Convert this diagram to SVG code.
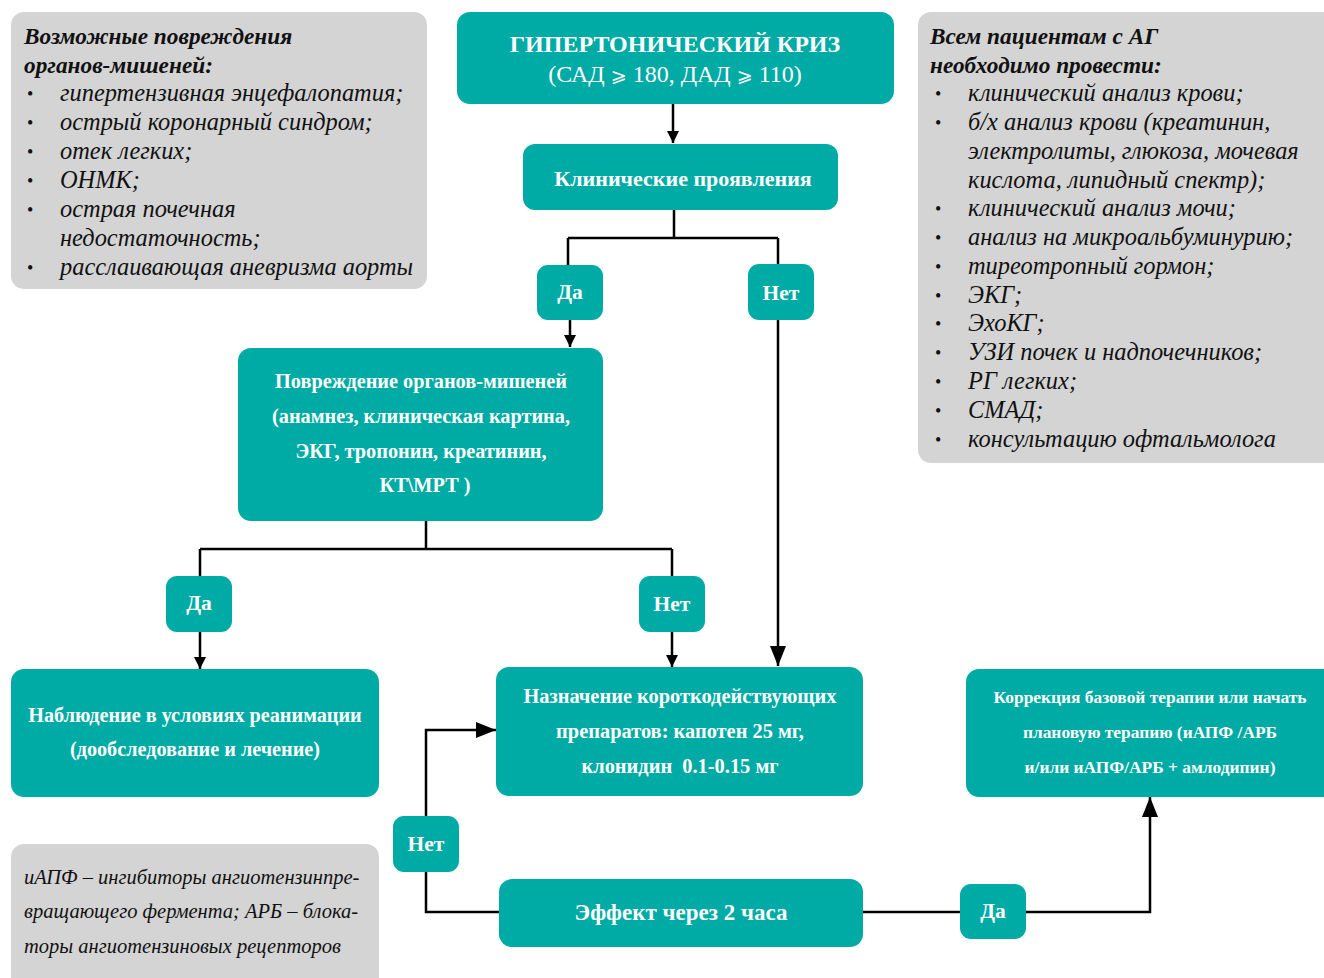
<svg xmlns="http://www.w3.org/2000/svg" width="1324" height="978" viewBox="0 0 1324 978">
<defs>
<style>
.teal{fill:#00aba5;}
.gray{fill:#d4d4d4;}
.wt{fill:#ffffff;font-family:"Liberation Serif","Times New Roman",serif;font-weight:bold;text-anchor:middle;}
.it{fill:#111111;font-family:"Liberation Serif","Times New Roman",serif;font-style:italic;font-size:24.4px;}
.ith{fill:#111111;font-family:"Liberation Serif","Times New Roman",serif;font-style:italic;font-weight:bold;font-size:23.3px;}
.bul{fill:#111111;font-family:"Liberation Serif","Times New Roman",serif;font-size:18px;}
.ln{fill:none;stroke:#000000;stroke-width:2.5;}
</style>
<marker id="as" viewBox="0 0 12 12" refX="12" refY="6" markerWidth="12" markerHeight="12" markerUnits="userSpaceOnUse" orient="auto"><path d="M0,0 L12,6 L0,12 z" fill="#000"/></marker>
<marker id="al" viewBox="0 0 20 16" refX="20" refY="8" markerWidth="20" markerHeight="16" markerUnits="userSpaceOnUse" orient="auto"><path d="M0,0 L20,8 L0,16 z" fill="#000"/></marker>
</defs>
<rect width="1324" height="978" fill="#ffffff"/>

<g id="connectors">
<path class="ln" d="M673,104 V143" marker-end="url(#as)"/>
<path class="ln" d="M674,210 V238 M568,238 H778 M568,238 V265 M778,238 V264"/>
<path class="ln" d="M570,320 V347" marker-end="url(#as)"/>
<path class="ln" d="M778,320 V666" marker-end="url(#al)"/>
<path class="ln" d="M426,521 V549 M200,549 H672 M200,549 V576 M672,549 V576"/>
<path class="ln" d="M200,632 V669" marker-end="url(#as)"/>
<path class="ln" d="M672,632 V667" marker-end="url(#as)"/>
<path class="ln" d="M499,912 H426 V730 H496" marker-end="url(#al)"/>
<path class="ln" d="M863,912 H1150 V797" marker-end="url(#al)"/>
</g>

<g id="note-left">
<rect class="gray" x="11" y="12" width="416" height="277" rx="13"/>
<text class="ith" x="24" y="44">Возможные повреждения</text>
<text class="ith" x="24" y="73">органов-мишеней:</text>
<g class="bul"><text x="27" y="100">•</text><text x="27" y="129">•</text><text x="27" y="158">•</text><text x="27" y="187">•</text><text x="27" y="216">•</text><text x="27" y="274">•</text></g>
<text class="it" x="60" y="101">гипертензивная энцефалопатия;</text>
<text class="it" x="60" y="130">острый коронарный синдром;</text>
<text class="it" x="60" y="159">отек легких;</text>
<text class="it" x="60" y="188">ОНМК;</text>
<text class="it" x="60" y="217">острая почечная</text>
<text class="it" x="60" y="246">недостаточность;</text>
<text class="it" x="60" y="275">расслаивающая аневризма аорты</text>
</g>

<g id="note-right">
<rect class="gray" x="918" y="12" width="420" height="451" rx="13"/>
<text class="ith" x="930" y="44">Всем пациентам с АГ</text>
<text class="ith" x="930" y="73">необходимо провести:</text>
<g class="bul"><text x="935" y="100">•</text><text x="935" y="129">•</text><text x="935" y="215">•</text><text x="935" y="244">•</text><text x="935" y="273">•</text><text x="935" y="302">•</text><text x="935" y="330">•</text><text x="935" y="359">•</text><text x="935" y="388">•</text><text x="935" y="417">•</text><text x="935" y="446">•</text></g>
<text class="it" x="968" y="101">клинический анализ крови;</text>
<text class="it" x="968" y="130">б/х анализ крови (креатинин,</text>
<text class="it" x="968" y="159">электролиты, глюкоза, мочевая</text>
<text class="it" x="968" y="188">кислота, липидный спектр);</text>
<text class="it" x="968" y="216">клинический анализ мочи;</text>
<text class="it" x="968" y="245">анализ на микроальбуминурию;</text>
<text class="it" x="968" y="274">тиреотропный гормон;</text>
<text class="it" x="968" y="303">ЭКГ;</text>
<text class="it" x="968" y="331">ЭхоКГ;</text>
<text class="it" x="968" y="360">УЗИ почек и надпочечников;</text>
<text class="it" x="968" y="389">РГ легких;</text>
<text class="it" x="968" y="418">СМАД;</text>
<text class="it" x="968" y="447">консультацию офтальмолога</text>
</g>

<g id="crisis">
<rect class="teal" x="457" y="12" width="437" height="92" rx="13"/>
<text class="wt" x="675" y="52" font-size="24">ГИПЕРТОНИЧЕСКИЙ КРИЗ</text>
<text class="wt" x="675" y="82" font-size="24" style="font-weight:normal">(САД <tspan font-family="DejaVu Serif,DejaVu Sans,serif" font-size="19">⩾</tspan> 180, ДАД <tspan font-family="DejaVu Serif,DejaVu Sans,serif" font-size="19">⩾</tspan> 110)</text>
</g>

<g id="clinical">
<rect class="teal" x="523" y="144" width="315" height="66" rx="12"/>
<text class="wt" x="683" y="186" font-size="22">Клинические проявления</text>
</g>

<g id="yes1">
<rect class="teal" x="537" y="265" width="66" height="55" rx="11"/>
<text class="wt" x="570" y="299" font-size="21.5">Да</text>
</g>
<g id="no1">
<rect class="teal" x="748" y="264" width="66" height="56" rx="11"/>
<text class="wt" x="781" y="300" font-size="21.5">Нет</text>
</g>

<g id="damage">
<rect class="teal" x="238" y="348" width="365" height="173" rx="13"/>
<text class="wt" x="421" y="388" font-size="20.3">Повреждение органов-мишеней</text>
<text class="wt" x="421" y="423" font-size="20.3">(анамнез, клиническая картина,</text>
<text class="wt" x="421" y="458" font-size="20.3">ЭКГ, тропонин, креатинин,</text>
<text class="wt" x="425" y="492" font-size="20.3">КТ\МРТ )</text>
</g>

<g id="yes2">
<rect class="teal" x="166" y="576" width="66" height="56" rx="11"/>
<text class="wt" x="199" y="610" font-size="21.5">Да</text>
</g>
<g id="no2">
<rect class="teal" x="639" y="576" width="66" height="56" rx="11"/>
<text class="wt" x="672" y="611" font-size="21.5">Нет</text>
</g>

<g id="icu">
<rect class="teal" x="11" y="669" width="368" height="128" rx="13"/>
<text class="wt" x="195" y="722" font-size="20.2">Наблюдение в условиях реанимации</text>
<text class="wt" x="195" y="756" font-size="20.2">(дообследование и лечение)</text>
</g>

<g id="drugs">
<rect class="teal" x="496" y="667" width="367" height="129" rx="13"/>
<text class="wt" x="680" y="703" font-size="20.4">Назначение короткодействующих</text>
<text class="wt" x="680" y="738" font-size="20.4">препаратов: капотен 25 мг,</text>
<text class="wt" x="680" y="773" font-size="20.4" xml:space="preserve">клонидин  0.1-0.15 мг</text>
</g>

<g id="correction">
<rect class="teal" x="966" y="669" width="372" height="128" rx="13"/>
<text class="wt" x="1150" y="703" font-size="17.4">Коррекция базовой терапии или начать</text>
<text class="wt" x="1150" y="738" font-size="17.4">плановую терапию (иАПФ /АРБ</text>
<text class="wt" x="1150" y="773" font-size="17.4">и/или иАПФ/АРБ + амлодипин)</text>
</g>

<g id="no3">
<rect class="teal" x="393" y="816" width="66" height="56" rx="11"/>
<text class="wt" x="426" y="851" font-size="21.5">Нет</text>
</g>

<g id="effect">
<rect class="teal" x="499" y="879" width="364" height="68" rx="13"/>
<text class="wt" x="681" y="920" font-size="23">Эффект через 2 часа</text>
</g>

<g id="yes3">
<rect class="teal" x="960" y="884" width="66" height="55" rx="11"/>
<text class="wt" x="993" y="918" font-size="21.5">Да</text>
</g>

<g id="note-bottom">
<rect class="gray" x="11" y="844" width="368" height="150" rx="13"/>
<text class="it" x="24" y="884" style="font-size:20.5px">иАПФ – ингибиторы ангиотензинпре-</text>
<text class="it" x="24" y="918" style="font-size:20.5px">вращающего фермента; АРБ – блока-</text>
<text class="it" x="24" y="953" style="font-size:20.5px">торы ангиотензиновых рецепторов</text>
</g>
</svg>
